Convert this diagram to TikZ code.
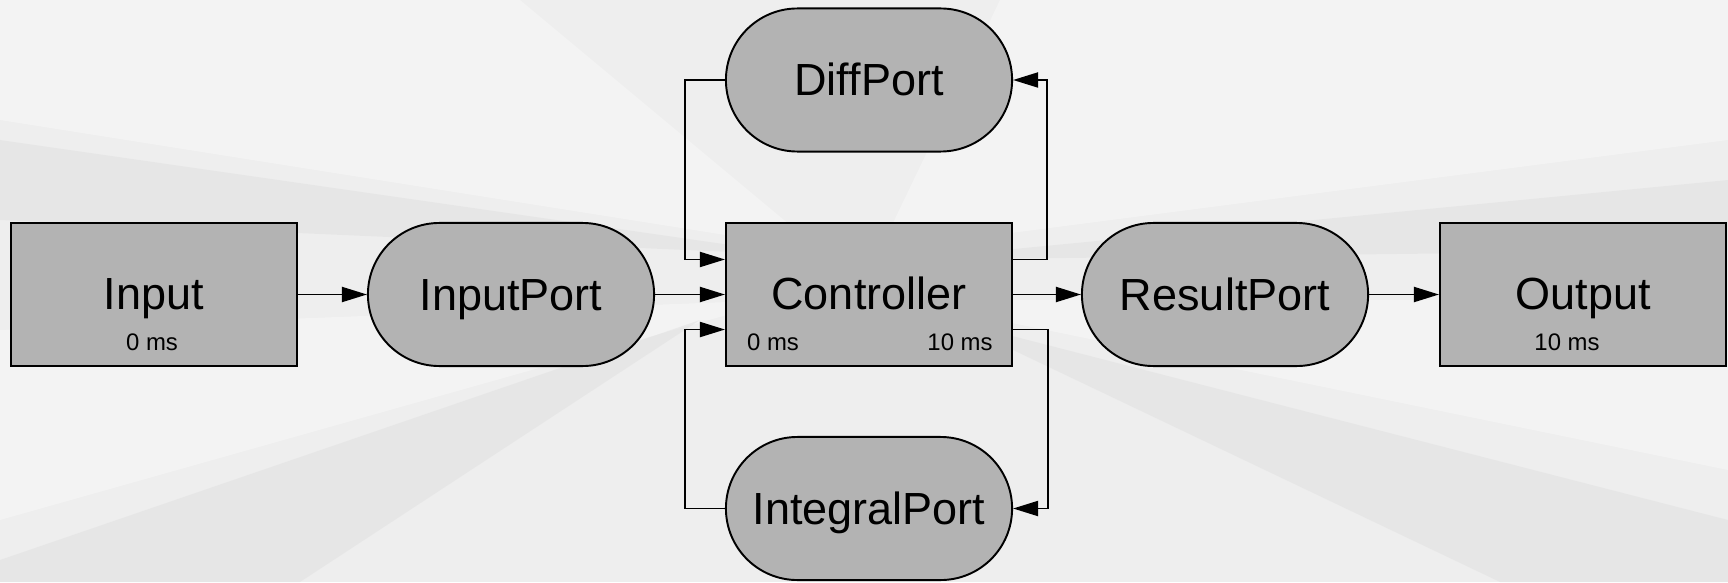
\documentclass[tikz,border=0pt]{standalone}
\usepackage{fontspec}
\setmainfont{Liberation Sans}
\usetikzlibrary{arrows.meta}
\definecolor{boxfill}{RGB}{179,179,179}
\definecolor{bgbase}{RGB}{238,238,238}
\definecolor{bglight}{RGB}{250,250,250}
\definecolor{bgdark}{RGB}{222,222,222}

\begin{document}
\begin{tikzpicture}[x=0.01cm,y=-0.01cm,
  base/.style={draw=black, line width=0.55pt, fill=boxfill,
    minimum width=2.86cm, minimum height=1.43cm, inner sep=0pt},
  block/.style={base},
  port/.style={base, rounded corners=0.715cm},
  lbl/.style={font=\fontsize{12.8}{14}\selectfont, anchor=base, inner sep=0pt},
  sub/.style={font=\fontsize{6.8}{8}\selectfont, anchor=base, inner sep=0pt},
  wire/.style={line width=0.55pt},
  arr/.style={wire, -{Triangle[length=2.5mm,width=1.5mm]}}
]
% backdrop: pale hall with soft perspective bands
\useasboundingbox (0,0) rectangle (1728,582);
\fill[bgbase] (0,0) rectangle (1728,582);
\begin{scope}[opacity=0.45]
  \fill[bglight] (0,0) -- (520,0) -- (820,250) -- (0,120) -- cycle;
  \fill[bglight] (1000,0) -- (1728,0) -- (1728,140) -- (880,250) -- cycle;
  \fill[bglight] (0,330) -- (780,300) -- (0,520) -- cycle;
  \fill[bglight] (1728,300) -- (900,300) -- (1728,470) -- cycle;
  \fill[bgdark] (0,140) -- (800,255) -- (0,220) -- cycle;
  \fill[bgdark] (1728,180) -- (900,260) -- (1728,250) -- cycle;
  \fill[bgdark] (0,560) -- (700,320) -- (300,582) -- (0,582) -- cycle;
  \fill[bgdark] (1728,520) -- (950,320) -- (1500,582) -- (1728,582) -- cycle;
\end{scope}

% blocks and ports
\node[block] (in) at (154,294.5) {};
\node[lbl] (inT) at (154,309) {Input};
\node[sub] (inS) at (152,350) {0 ms};

\node[port] (inport) at (511,294.5) {};
\node[lbl] (inportT) at (511,310.5) {InputPort};

\node[block] (ctrl) at (869,294.5) {};
\node[lbl] (ctrlT) at (869,309) {Controller};
\node[sub] (ctrlS1) at (773,350) {0 ms};
\node[sub] (ctrlS2) at (960,350) {10 ms};

\node[port] (diff) at (869,80) {};
\node[lbl] (diffT) at (869,96) {DiffPort};

\node[port] (integ) at (869,508.5) {};
\node[lbl] (integT) at (869,524.5) {IntegralPort};

\node[port] (res) at (1225,294.5) {};
\node[lbl] (resT) at (1225,310.5) {ResultPort};

\node[block] (out) at (1583,294.5) {};
\node[lbl] (outT) at (1583,309) {Output};
\node[sub] (outS) at (1567,350) {10 ms};

% main chain
\draw[arr] (in.east) -- (inport.west);
\draw[arr] (inport.east) -- (ctrl.west);
\draw[arr] (ctrl.east) -- (res.west);
\draw[arr] (res.east) -- (out.west);

% feedback loops
\draw[arr] ([yshift=3.5mm]ctrl.east) -- ++(34,0) |- (diff.east);
\draw[arr] ([yshift=-3.5mm]ctrl.east) -- ++(35,0) |- (integ.east);
\draw[arr] (diff.west) -- ++(-40,0) |- ([yshift=3.5mm]ctrl.west);
\draw[arr] (integ.west) -- ++(-40,0) |- ([yshift=-3.5mm]ctrl.west);
\end{tikzpicture}
\end{document}
